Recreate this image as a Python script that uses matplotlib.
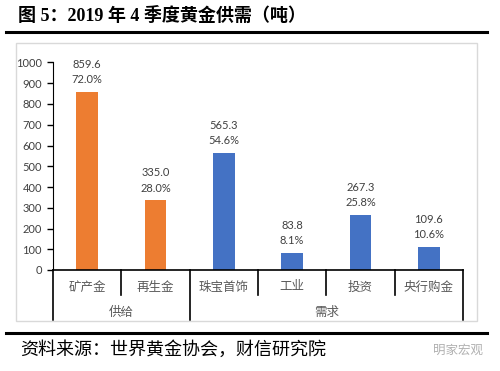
import matplotlib
matplotlib.use("Agg")
import matplotlib.pyplot as plt
import matplotlib.patches as mpatches
from matplotlib.lines import Line2D

categories = ["矿产金", "再生金", "珠宝首饰", "工业", "投资", "央行购金"]
values = [859.6, 335.0, 565.3, 83.8, 267.3, 109.6]
shares = ["72.0%", "28.0%", "54.6%", "8.1%", "25.8%", "10.6%"]
groups = ["供给", "需求"]
group_sizes = [2, 4]
yticks = list(range(0, 1001, 100))

ORANGE = "#ED7D31"
BLUE = "#4472C4"
CJK = "Noto Sans CJK SC"
NUM = ["Lato", CJK]

W, H = 500, 371
fig = plt.figure(figsize=(W / 100, H / 100), dpi=100)
fig.patch.set_facecolor("white")

# title + rule
fig.text(18 / W, 1 - 16 / H, "图 5：2019 年 4 季度黄金供需（吨）",
         family=["Liberation Serif", CJK], weight="bold", fontsize=13,
         va="center", ha="left")
fig.add_artist(Line2D([6 / W, 487 / W], [1 - 31.5 / H] * 2,
                      color="black", lw=2.2))

# light chart frame
fig.add_artist(mpatches.Rectangle((16 / W, 1 - 321 / H), 461 / W, 278 / H,
                                  transform=fig.transFigure, fill=False,
                                  edgecolor="#D9D9D9", lw=1.0))

ax_l, ax_r, ax_t, ax_b = 53, 463, 62.5, 270
ax = fig.add_axes([ax_l / W, 1 - ax_b / H, (ax_r - ax_l) / W, (ax_b - ax_t) / H])
ax_h = ax_b - ax_t

colors = [ORANGE] * group_sizes[0] + [BLUE] * group_sizes[1]
x = list(range(len(categories)))
bars = ax.bar(x, values, width=0.32, color=colors)
for xi, v, s in zip(x, values, shares):
    ax.annotate(f"{v:.1f}\n{s}", (xi, v), xytext=(0, 5), textcoords="offset points",
                ha="center", va="bottom", fontsize=8, color="#404040",
                family=NUM, linespacing=1.45)

ax.set_xlim(-0.5, len(categories) - 0.5)
ax.set_ylim(0, 1000)
ax.set_yticks(yticks)
ax.tick_params(axis="y", direction="out", length=4, width=1, pad=4,
               labelsize=8, labelcolor="#404040")
for lab in ax.get_yticklabels():
    lab.set_family(NUM)
ax.set_xticks([])
for sp in ["top", "right"]:
    ax.spines[sp].set_visible(False)
ax.spines["left"].set_color("black")
ax.spines["bottom"].set_color("black")
ax.spines["bottom"].set_linewidth(1.2)

# multi-level category axis
tr = ax.get_xaxis_transform()
short_y = -25 / ax_h
long_y = -50 / ax_h
bounds = [-0.5]
acc = -0.5
for g in group_sizes:
    acc += g
    bounds.append(acc)
for i in range(len(categories) + 1):
    bx = i - 0.5
    y_end = long_y if bx in bounds else short_y
    ax.plot([bx, bx], [0, y_end], transform=tr, color="black", lw=1.2,
            clip_on=False)
for xi, c in zip(x, categories):
    ax.text(xi, -17 / ax_h, c, transform=tr, ha="center", va="center",
            fontsize=9, color="#595959", family=CJK)
start = -0.5
for g, n in zip(groups, group_sizes):
    ax.text(start + n / 2, -42 / ax_h, g, transform=tr, ha="center",
            va="center", fontsize=9, color="#595959", family=CJK)
    start += n

# bottom rule + source
fig.add_artist(Line2D([6 / W, 487 / W], [1 - 333 / H] * 2,
                      color="black", lw=2.2))
fig.text(20 / W, 1 - 350 / H, "资料来源：世界黄金协会，财信研究院",
         family=CJK, style="italic", fontsize=13, va="center", ha="left")
fig.text(483 / W, 1 - 350 / H, "明家宏观", family=CJK, fontsize=9,
         color="#B0B0B0", va="center", ha="right")

fig.savefig("out.png", dpi=100)
